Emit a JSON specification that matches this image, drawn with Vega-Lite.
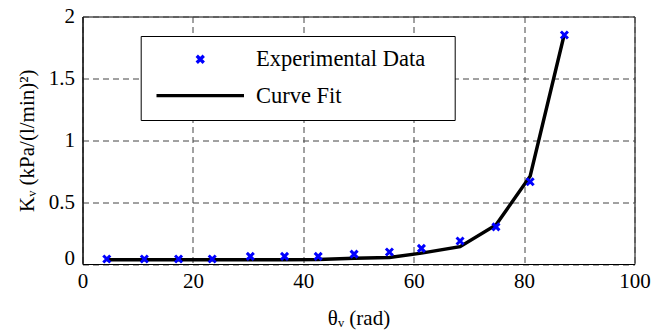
{
  "$schema": "https://vega.github.io/schema/vega-lite/v6.json",
  "width": 552,
  "height": 247.5,
  "autosize": {"type": "none"},
  "padding": {"left": 82.5, "top": 16.5, "right": 30.5, "bottom": 69},
  "background": "white",
  "config": {
    "view": {"stroke": "black", "strokeWidth": 1},
    "font": "Liberation Serif",
    "axis": {
      "labelFont": "Liberation Serif",
      "labelFontSize": 21,
      "labelColor": "black",
      "titleFont": "Liberation Serif",
      "titleFontSize": 21,
      "titleFontWeight": "normal",
      "titleColor": "black",
      "domainColor": "black",
      "tickSize": 0,
      "grid": true,
      "gridDash": [6, 4],
      "gridColor": "#444444",
      "gridWidth": 1
    }
  },
  "data": {
    "values": [
      {"x": 4.4, "y": 0.04, "series": "Experimental Data"},
      {"x": 11.2, "y": 0.04, "series": "Experimental Data"},
      {"x": 17.4, "y": 0.04, "series": "Experimental Data"},
      {"x": 23.5, "y": 0.04, "series": "Experimental Data"},
      {"x": 30.4, "y": 0.062, "series": "Experimental Data"},
      {"x": 36.6, "y": 0.062, "series": "Experimental Data"},
      {"x": 42.7, "y": 0.062, "series": "Experimental Data"},
      {"x": 49.2, "y": 0.08, "series": "Experimental Data"},
      {"x": 55.6, "y": 0.097, "series": "Experimental Data"},
      {"x": 61.4, "y": 0.126, "series": "Experimental Data"},
      {"x": 68.4, "y": 0.186, "series": "Experimental Data"},
      {"x": 74.9, "y": 0.3, "series": "Experimental Data"},
      {"x": 81.1, "y": 0.665, "series": "Experimental Data"},
      {"x": 87.3, "y": 1.85, "series": "Experimental Data"},
      {"x": 4.4, "y": 0.035, "series": "Curve Fit"},
      {"x": 11.2, "y": 0.035, "series": "Curve Fit"},
      {"x": 17.4, "y": 0.035, "series": "Curve Fit"},
      {"x": 23.5, "y": 0.035, "series": "Curve Fit"},
      {"x": 30.4, "y": 0.035, "series": "Curve Fit"},
      {"x": 36.6, "y": 0.035, "series": "Curve Fit"},
      {"x": 42.7, "y": 0.036, "series": "Curve Fit"},
      {"x": 49.2, "y": 0.047, "series": "Curve Fit"},
      {"x": 55.6, "y": 0.053, "series": "Curve Fit"},
      {"x": 61.4, "y": 0.088, "series": "Curve Fit"},
      {"x": 68.4, "y": 0.14, "series": "Curve Fit"},
      {"x": 74.9, "y": 0.315, "series": "Curve Fit"},
      {"x": 81.1, "y": 0.71, "series": "Curve Fit"},
      {"x": 87.3, "y": 1.86, "series": "Curve Fit"}
    ]
  },
  "encoding": {
    "x": {
      "field": "x",
      "type": "quantitative",
      "scale": {"domain": [0, 100], "nice": false, "zero": false},
      "axis": {
        "values": [0, 20, 40, 60, 80, 100],
        "title": "θᵥ (rad)",
        "labelPadding": 6,
        "titlePadding": 16,
        "labelFlush": false
      }
    },
    "y": {
      "field": "y",
      "type": "quantitative",
      "scale": {"domain": [0, 2], "nice": false},
      "axis": {
        "values": [0, 0.5, 1, 1.5, 2],
        "format": "~g",
        "title": "Kᵥ (kPa/(l/min)²)",
        "labelPadding": 8,
        "titlePadding": 11,
        "labelFlush": false,
        "labelBaseline": {"condition": {"test": "datum.value == 0", "value": "alphabetic"}, "value": "middle"}
      }
    },
    "color": {
      "field": "series",
      "type": "nominal",
      "scale": {"domain": ["Experimental Data", "Curve Fit"], "range": ["#0000ff", "#000000"]},
      "legend": {
        "title": ".",
        "titleOrient": "right",
        "titleOpacity": 0,
        "titleFontSize": 10,
        "titlePadding": 15,
        "orient": "none",
        "legendX": 58.2,
        "legendY": 19.5,
        "padding": 12,
        "strokeColor": "black",
        "fillColor": "white",
        "cornerRadius": 0,
        "labelFont": "Liberation Serif",
        "labelFontSize": 22.5,
        "labelColor": "black",
        "labelLimit": 0,
        "symbolStrokeWidth": 3.3,
        "symbolSize": 49,
        "symbolOffset": 36.3,
        "labelOffset": 44.4,
        "rowPadding": 13.3
      }
    }
  },
  "layer": [
    {
      "transform": [{"filter": "datum.series == 'Curve Fit'"}],
      "mark": {"type": "line", "strokeWidth": 3.5}
    },
    {
      "transform": [{"filter": "datum.series == 'Experimental Data'"}],
      "mark": {"type": "point", "filled": false, "strokeWidth": 3, "size": 49, "opacity": 1},
      "encoding": {
        "shape": {
          "field": "series",
          "type": "nominal",
          "scale": {"domain": ["Experimental Data", "Curve Fit"], "range": ["M-1,-1L1,1M-1,1L1,-1", "M-12.5,0L12.5,0"]}
        }
      }
    }
  ]
}
